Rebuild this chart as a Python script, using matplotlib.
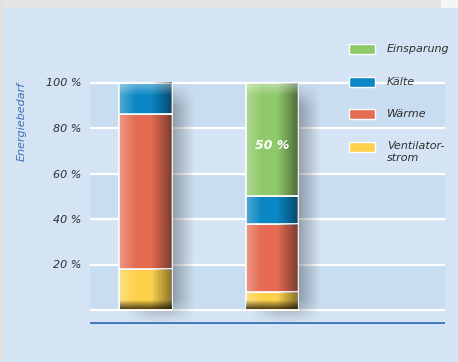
import numpy as np
import matplotlib
matplotlib.use('Agg')
import matplotlib.pyplot as plt
from matplotlib.patches import Rectangle

# Energiebedarf: heute vs. mit Einsparung (Anteile in %)
bars = ['Standard', 'Optimiert']
ventilator = [18, 8]
waerme = [68, 30]
kaelte = [14, 12]
einsparung = [0, 50]

series = ['Ventilatorstrom', 'Wärme', 'Kälte', 'Einsparung']
legend_labels = ['Einsparung', 'Kälte', 'Wärme', 'Ventilator-\nstrom']
colors = {'Ventilatorstrom': '#fdd24b', 'Wärme': '#e56c53',
          'Kälte': '#0a87c4', 'Einsparung': '#8fc96a'}
yticks = [20, 40, 60, 80, 100]
ytick_labels = ['20 %', '40 %', '60 %', '80 %', '100 %']
saving_label = '50 %'

W, H = 458, 362
panel = '#d4e4f4'
band = '#c9ddf1'
textc = '#2e2e2e'

fig = plt.figure(figsize=(W / 100, H / 100), dpi=100, facecolor=panel)

# grauer Rand oben / links
fig.patches.append(Rectangle((0, 1 - 7 / H), 441 / W, 7 / H, transform=fig.transFigure,
                             color='#e3e4e6', zorder=0))
fig.patches.append(Rectangle((441 / W, 1 - 7 / H), 17 / W, 7 / H, transform=fig.transFigure,
                             color='#f4f5f6', zorder=0))
fig.patches.append(Rectangle((0, 0), 3 / W, 1, transform=fig.transFigure,
                             color='#e0e2e4', zorder=0))

# Achse in Pixeln: x 90..445, y=0 bei 310 px, y=100 bei 83 px
ppu = 2.275
ymin, ymax = -6.2, 101
left, right = 90, 445
bottom_px = 310 + (-ymin) * ppu
top_px = 310 - ymax * ppu
ax = fig.add_axes([left / W, 1 - bottom_px / H, (right - left) / W, (bottom_px - top_px) / H])
ax.set_facecolor(panel)
for s in ax.spines.values():
    s.set_visible(False)

# abwechselnde Bänder und weiße Rasterlinien
for lo in (0, 40, 80):
    ax.axhspan(lo, lo + 20, color=band, zorder=0, lw=0)
for g in [0] + yticks:
    ax.axhline(g, color='white', lw=1.6, zorder=1)
ax.axhline(-5.6, color='#3c74b9', lw=2, zorder=1)

x = np.arange(len(bars))
w = 0.42


def ramp(n, soft):
    t = np.linspace(0, 1, n)
    return np.clip(np.minimum(t, 1 - t) / soft, 0, 1)


# weicher Schatten hinter den Säulen
for xi in x:
    sh = np.outer(ramp(120, 0.1), ramp(80, 0.35))
    rgba = np.zeros((120, 80, 4))
    rgba[..., :3] = 0.18
    rgba[..., 3] = sh * 0.4
    ax.imshow(rgba, extent=(xi - w / 2 + 0.05, xi + w / 2 + 0.17, -6, 100),
              aspect='auto', zorder=2, interpolation='bilinear')

data = {'Ventilatorstrom': ventilator, 'Wärme': waerme, 'Kälte': kaelte, 'Einsparung': einsparung}
base = np.zeros(len(bars))
t = np.linspace(0, 1, 60)
for name in series:
    vals = np.array(data[name], dtype=float)
    ax.bar(x, vals, w, bottom=base, color=colors[name], edgecolor='white', lw=1.2, zorder=3)
    # Glanz links, Schatten rechts
    for xi, b, v in zip(x, base, vals):
        if v <= 0:
            continue
        g = np.zeros((1, 60, 4))
        light = np.clip((0.3 - t) / 0.3, 0, 1)
        dark = np.clip((t - 0.6) / 0.4, 0, 1)
        g[0, :, :3] = np.where(light[:, None] > 0, 1.0, 0.0)
        g[0, :, 3] = light * 0.28 + dark * 0.45
        ax.imshow(g, extent=(xi - w / 2 + 0.005, xi + w / 2 - 0.005, b + 0.4, b + v - 0.4),
                  aspect='auto', zorder=4, interpolation='bilinear')
    base += vals

# dunkler Fuß und heller Kopf der Säulen
tb = np.linspace(0, 1, 40)
for xi in x:
    g = np.zeros((40, 1, 4))
    g[:, 0, 3] = np.clip((tb - 0.3) / 0.7, 0, 1) * 0.7
    ax.imshow(g, extent=(xi - w / 2 + 0.005, xi + w / 2 - 0.005, 0.4, 6),
              aspect='auto', zorder=5, interpolation='bilinear')
    g2 = np.ones((40, 1, 4))
    g2[:, 0, 3] = np.clip((0.7 - tb) / 0.7, 0, 1) * 0.4
    ax.imshow(g2, extent=(xi - w / 2 + 0.005, xi + w / 2 - 0.005, 92, 99.6),
              aspect='auto', zorder=5, interpolation='bilinear')

ax.text(x[1], 72.5, saving_label, color='white', fontsize=9, fontweight='bold',
        fontstyle='italic', ha='center', va='center', zorder=6)

ax.set_xlim(-0.444, 2.373)
ax.set_ylim(ymin, ymax)
ax.set_xticks([])
ax.set_yticks(yticks)
ax.set_yticklabels(ytick_labels, fontsize=8, fontstyle='italic', color=textc)
ax.tick_params(axis='y', length=0, pad=6)

fig.text(22 / W, 1 - 121 / H, 'Energiebedarf', rotation=90, color='#3a70b8',
         fontsize=8, fontstyle='italic', ha='center', va='center')

# Legende von Hand
leg_y = [49, 82, 114, 147]
for lab, name, yy in zip(legend_labels, series[::-1], leg_y):
    fig.patches.append(Rectangle((349 / W, 1 - (yy + 5) / H), 26 / W, 10 / H,
                                 transform=fig.transFigure, facecolor=colors[name],
                                 edgecolor='white', lw=1, zorder=5))
    if '\n' in lab:
        fig.text(387 / W, 1 - (yy - 6) / H, lab, fontsize=8, fontstyle='italic', color=textc,
                 ha='left', va='top', linespacing=1.3)
    else:
        fig.text(387 / W, 1 - yy / H, lab, fontsize=8, fontstyle='italic', color=textc,
                 ha='left', va='center')

fig.savefig('out.png', dpi=100, facecolor=panel)
